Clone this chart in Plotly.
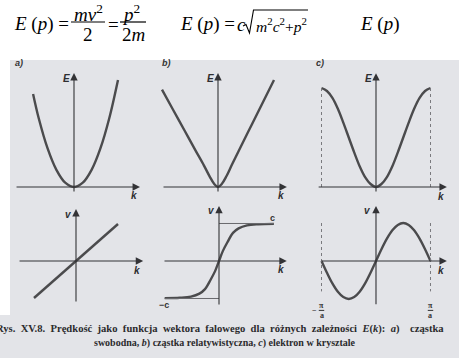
import plotly.graph_objects as go

W, H = 459, 358

# ---------------- curve values (normalised units) ----------------
# top row: E(k)
k_free = [-0.93, -0.8, -0.6, -0.4, -0.2, 0.0, 0.2, 0.4, 0.6, 0.8, 1.0]
E_free = [0.87, 0.64, 0.36, 0.16, 0.04, 0.0, 0.04, 0.16, 0.36, 0.64, 1.0]

k_rel = [-1.0, -0.8, -0.6, -0.4, -0.25, -0.15, -0.07, 0.0, 0.07, 0.15, 0.25, 0.4, 0.6, 0.8, 1.0]
E_rel = [0.91, 0.72, 0.53, 0.34, 0.2, 0.1, 0.03, 0.0, 0.03, 0.1, 0.21, 0.37, 0.58, 0.79, 1.0]

k_cry = [-1.0, -0.9, -0.8, -0.7, -0.6, -0.5, -0.4, -0.3, -0.2, -0.1, 0.0,
         0.1, 0.2, 0.3, 0.4, 0.5, 0.6, 0.7, 0.8, 0.9, 1.0]
E_cry = [1.0, 0.97, 0.9, 0.79, 0.65, 0.5, 0.35, 0.21, 0.1, 0.03, 0.0,
         0.03, 0.1, 0.21, 0.35, 0.5, 0.65, 0.79, 0.9, 0.97, 1.0]

# bottom row: v(k)
k_free_v = [-1.0, 1.0]
v_free = [-1.0, 1.0]

k_rel_v = [-0.97, -0.7, -0.5, -0.35, -0.25, -0.15, -0.07, 0.0, 0.07, 0.15, 0.25, 0.35, 0.5, 0.7, 0.98]
v_rel = [-0.99, -0.98, -0.95, -0.87, -0.75, -0.5, -0.27, 0.0, 0.27, 0.5, 0.75, 0.87, 0.95, 0.98, 0.99]

k_cry_v = [-1.0, -0.9, -0.8, -0.7, -0.6, -0.5, -0.4, -0.3, -0.2, -0.1, 0.0,
           0.1, 0.2, 0.3, 0.4, 0.5, 0.6, 0.7, 0.8, 0.9, 1.0]
v_cry = [0.0, -0.31, -0.59, -0.81, -0.95, -1.0, -0.95, -0.81, -0.59, -0.31, 0.0,
         0.31, 0.59, 0.81, 0.95, 1.0, 0.95, 0.81, 0.59, 0.31, 0.0]

# velocity limits (±c) and zone edges (±π/a), in the same units
c_limit = 1.0
zone_edge = 1.0

panel_tags = ["a)", "b)", "c)"]
caption_words_1 = ["Rys.", "XV.8.", "Prędkość", "jako", "funkcja", "wektora", "falowego", "dla",
                   "różnych", "zależności", "<i>E</i>(<i>k</i>):", "<i>a</i>)", "cząstka"]
caption_line_2 = "swobodna, <i>b</i>) cząstka relatywistyczna, <i>c</i>) elektron w krysztale"

# ---------------- panel geometry (pixels) ----------------
# origin, pixels per unit, extent of the drawn k axis and E/v axis
panels = [
    dict(ox=74, oy=187, sx=44, sy=107, kax=(-1.34, 1.5), yax=(-0.056, 1.065), ylab="E"),
    dict(ox=218, oy=187, sx=56, sy=107, kax=(-1.0, 1.23), yax=(-0.056, 1.065), ylab="E"),
    dict(ox=376, oy=187, sx=54.5, sy=99, kax=(-1.08, 1.30), yax=(-0.06, 1.15), ylab="E"),
    dict(ox=76, oy=261, sx=42, sy=37, kax=(-1.38, 1.6), yax=(-1.135, 1.405), ylab="v"),
    dict(ox=219, oy=261, sx=56, sy=37.5, kax=(-1.0, 1.21), yax=(-1.2, 1.47), ylab="v"),
    dict(ox=376, oy=261, sx=54.5, sy=38, kax=(-1.03, 1.30), yax=(-1.18, 1.45), ylab="v"),
]
series = [(k_free, E_free, "spline"), (k_rel, E_rel, "spline"), (k_cry, E_cry, "spline"),
          (k_free_v, v_free, "linear"), (k_rel_v, v_rel, "spline"), (k_cry_v, v_cry, "spline")]

CURVE = "#4b4b4d"
AXIS = "#333336"
PAD = 12  # px of room around each axis


def fx(x):
    return x / W


def fy(y):
    return 1 - y / H


fig = go.Figure()
layout = dict(width=W, height=H, margin=dict(l=0, r=0, t=0, b=0),
              paper_bgcolor="white", plot_bgcolor="rgba(0,0,0,0)", showlegend=False)
shapes, annotations = [], []

# scanned page background
shapes.append(dict(type="rect", xref="paper", yref="paper", x0=fx(10), x1=1, y0=0, y1=fy(60),
                   fillcolor="#e3e4e8", line_width=0, layer="below"))
shapes.append(dict(type="rect", xref="paper", yref="paper", x0=0, x1=fx(10), y0=0, y1=fy(315),
                   fillcolor="#e3e4e8", line_width=0, layer="below"))

for i, (p, (kx, ky, shape)) in enumerate(zip(panels, series), start=1):
    xs = "" if i == 1 else str(i)
    xa, ya = "x" + xs, "y" + xs
    k0, k1 = p["kax"]
    y0, y1 = p["yax"]
    padk, pady = PAD / p["sx"], PAD / p["sy"]
    xr = [k0 - padk, k1 + padk]
    yr = [y0 - pady, y1 + pady]
    left = p["ox"] + xr[0] * p["sx"]
    right = p["ox"] + xr[1] * p["sx"]
    top = p["oy"] - yr[1] * p["sy"]
    bottom = p["oy"] - yr[0] * p["sy"]
    layout["xaxis" + xs] = dict(domain=[max(0, fx(left)), min(1, fx(right))], range=xr, visible=False,
                                anchor=ya, fixedrange=True)
    layout["yaxis" + xs] = dict(domain=[fy(bottom), fy(top)], range=yr, visible=False,
                                anchor=xa, fixedrange=True)

    fig.add_trace(go.Scatter(x=kx, y=ky, mode="lines", xaxis=xa, yaxis=ya,
                             line=dict(color=CURVE, width=2.4, shape=shape, smoothing=1.0),
                             hoverinfo="skip", cliponaxis=False))

    # axes with arrow heads
    for (tx, ty, sx_, sy_) in [(k1, 0, k0, 0), (0, y1, 0, y0)]:
        annotations.append(dict(x=tx, y=ty, ax=sx_, ay=sy_, xref=xa, yref=ya, axref=xa, ayref=ya,
                                text="", showarrow=True, arrowhead=2, arrowsize=1.35,
                                arrowwidth=1.1, arrowcolor=AXIS, standoff=0, startstandoff=0))
    # axis letters
    lab_font = dict(family="Liberation Sans", size=10, color="#2e2e30")
    annotations.append(dict(x=k1 - 6 / p["sx"], y=-9 / p["sy"], xref=xa, yref=ya, text="<b><i>k</i></b>",
                            showarrow=False, font=lab_font, xanchor="center", yanchor="middle"))
    annotations.append(dict(x=-8 / p["sx"], y=y1 - 5 / p["sy"], xref=xa, yref=ya,
                            text="<b><i>%s</i></b>" % p["ylab"],
                            showarrow=False, font=lab_font, xanchor="center", yanchor="middle"))

# panel tags a) b) c)
for tag, xpx in zip(panel_tags, [19, 166, 320]):
    annotations.append(dict(x=fx(xpx), y=fy(63), xref="paper", yref="paper", text="<b><i>%s</i></b>" % tag,
                            showarrow=False, font=dict(family="Liberation Sans", size=9, color="#333"),
                            xanchor="center", yanchor="middle"))

# relativistic limits ±c
shapes.append(dict(type="line", xref="x5", yref="y5", x0=0, x1=k_rel_v[-1], y0=c_limit, y1=c_limit,
                   line=dict(color="#6a6a6e", width=1)))
shapes.append(dict(type="line", xref="x5", yref="y5", x0=k_rel_v[0], x1=0, y0=-c_limit, y1=-c_limit,
                   line=dict(color="#6a6a6e", width=1)))
small = dict(family="Liberation Sans", size=9, color="#333")
annotations.append(dict(x=k_rel_v[-1] - 0.03, y=c_limit + 0.15, xref="x5", yref="y5", text="<b>c</b>",
                        showarrow=False, font=small, xanchor="center", yanchor="middle"))
annotations.append(dict(x=k_rel_v[0] - 0.02, y=-c_limit - 0.17, xref="x5", yref="y5", text="<b>−c</b>",
                        showarrow=False, font=small, xanchor="center", yanchor="middle"))

# Brillouin zone edges
frac_font = dict(family="Liberation Serif", size=8, color="#333")
for s in (-1, 1):
    shapes.append(dict(type="line", xref="x3", yref="y3", x0=s * zone_edge, x1=s * zone_edge, y0=0, y1=1.0,
                       line=dict(color="#7a7a7e", width=1, dash="dot")))
    shapes.append(dict(type="line", xref="x6", yref="y6", x0=s * zone_edge, x1=s * zone_edge, y0=1.0, y1=-0.8,
                       line=dict(color="#7a7a7e", width=1, dash="dot")))
    # ±π/a labels as small stacked fractions
    annotations.append(dict(x=s * zone_edge, y=-1.17, xref="x6", yref="y6", text="<b>π</b>",
                            showarrow=False, font=frac_font, xanchor="center", yanchor="middle"))
    annotations.append(dict(x=s * zone_edge, y=-1.43, xref="x6", yref="y6", text="<b>a</b>",
                            showarrow=False, font=frac_font, xanchor="center", yanchor="middle"))
    shapes.append(dict(type="line", xref="x6", yref="y6", x0=s * zone_edge - 0.05, x1=s * zone_edge + 0.05,
                       y0=-1.3, y1=-1.3, line=dict(color="#333", width=1)))
annotations.append(dict(x=-zone_edge - 0.12, y=-1.3, xref="x6", yref="y6", text="<b>−</b>",
                        showarrow=False, font=frac_font, xanchor="center", yanchor="middle"))

# ---------------- formulas above the panels ----------------
ff = dict(family="Liberation Serif", size=19, color="black")
ff_small = dict(family="Liberation Serif", size=15.5, color="black")


def text_at(x, y, txt, anchor="center", font=ff):
    annotations.append(dict(x=fx(x), y=fy(y), xref="paper", yref="paper", text=txt, showarrow=False,
                            font=font, xanchor=anchor, yanchor="middle"))


def bar(x0, x1, y, w=1.2):
    shapes.append(dict(type="line", xref="paper", yref="paper", x0=fx(x0), x1=fx(x1), y0=fy(y), y1=fy(y),
                       line=dict(color="black", width=w)))


def path_px(points, w=1.1):
    d = "M " + " L ".join("%.5f,%.5f" % (fx(x), fy(y)) for x, y in points)
    shapes.append(dict(type="path", xref="paper", yref="paper", path=d,
                       line=dict(color="black", width=w)))


text_at(12, 24, "<i>E</i> (<i>p</i>) =", "left")
text_at(88, 13, "<i>mv</i><sup>2</sup>")
bar(71, 105, 22)
text_at(88, 35, "2")
text_at(113, 24, "=")
text_at(131, 13, "<i>p</i><sup>2</sup>")
bar(120, 146, 22)
text_at(133, 35, "2<i>m</i>")

text_at(178, 24, "<i>E</i> (<i>p</i>) =", "left")
text_at(235, 25, "<i>c</i>", "left")
# square-root sign over m²c² + p²
path_px([(243, 26), (246, 24.5), (249.5, 33), (253.5, 10), (308, 10)])
text_at(254, 25, "<i>m</i><sup>2</sup><i>c</i><sup>2</sup>+<i>p</i><sup>2</sup>", "left", ff_small)

text_at(358, 24, "<i>E</i> (<i>p</i>)", "left")

# ---------------- caption ----------------
cap_font = dict(family="Liberation Serif", size=10.6, color="#2b2b2d")
gap = "\u00a0" * 2
annotations.append(dict(x=fx(-6), y=fy(329), xref="paper", yref="paper",
                        text="<b>%s</b>" % gap.join(caption_words_1[:-1]) + "<b>\u00a0\u00a0\u00a0\u00a0%s</b>" % caption_words_1[-1],
                        showarrow=False, font=cap_font, xanchor="left", yanchor="middle"))
annotations.append(dict(x=fx(225), y=fy(343), xref="paper", yref="paper", text="<b>%s</b>" % caption_line_2,
                        showarrow=False, font=dict(family="Liberation Serif", size=10, color="#2b2b2d"),
                        xanchor="center", yanchor="middle"))

layout["shapes"] = shapes
layout["annotations"] = annotations
fig.update_layout(**layout)
fig.write_html("out.html", config={"displayModeBar": False, "staticPlot": True})
